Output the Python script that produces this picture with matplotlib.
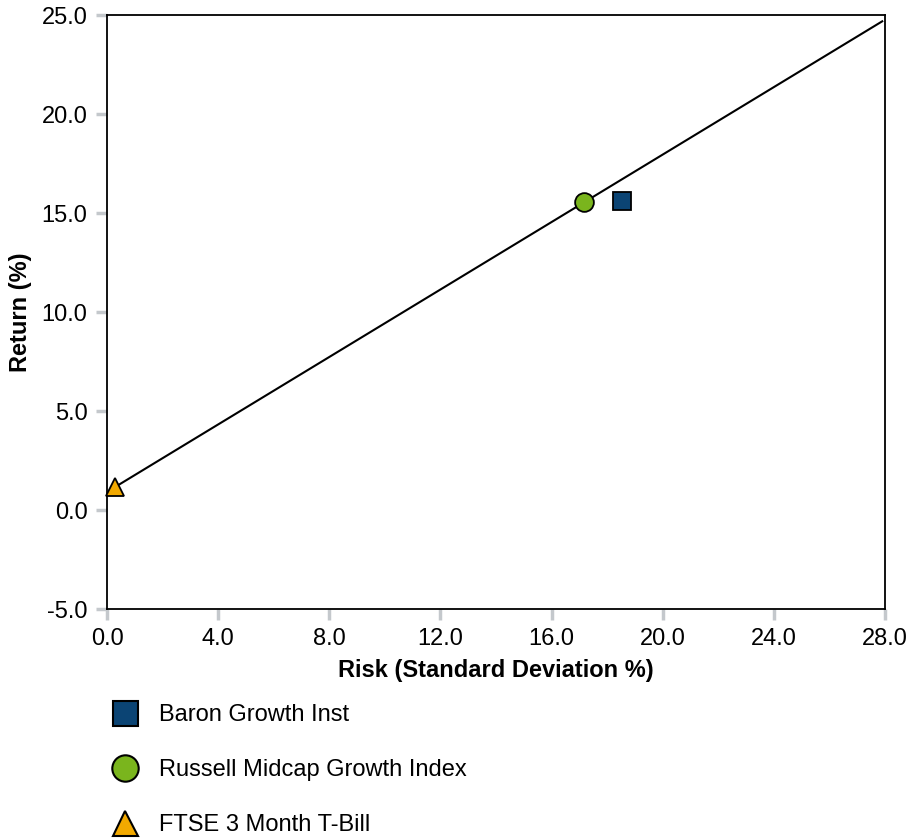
import matplotlib
matplotlib.use("Agg")
import matplotlib.pyplot as plt
from matplotlib.lines import Line2D
from matplotlib.ticker import FormatStrFormatter

plt.rcParams['font.family'] = ['Liberation Sans', 'DejaVu Sans']
plt.rcParams['axes.unicode_minus'] = False

names = ["Baron Growth Inst", "Russell Midcap Growth Index", "FTSE 3 Month T-Bill"]
risk = [18.52, 17.17, 0.29]
ret = [15.62, 15.54, 1.16]
markers = ["s", "o", "^"]
colors = ["#0b4474", "#7ab51d", "#f2a900"]

xticks = [0, 4, 8, 12, 16, 20, 24, 28]
yticks = [-5, 0, 5, 10, 15, 20, 25]

fig = plt.figure(figsize=(9.09, 8.38), dpi=100)
ax = fig.add_axes([107/909, 1-609/838, (885-107)/909, (609-15)/838])

# capital market line: from T-Bill through benchmark to right edge
rf_x, rf_y = risk[2], ret[2]
bx, by = risk[1], ret[1]
slope = (by - rf_y) / (bx - rf_x)
x_end = 27.9
ax.plot([rf_x, x_end], [rf_y, rf_y + slope * (x_end - rf_x)], color="black", lw=1.5, zorder=2)

sizes = [13, 13.5, 12.5]
for n, x, y, m, c, s in zip(names, risk, ret, markers, colors, sizes):
    ax.plot([x], [y], marker=m, color=c, markeredgecolor="black", markeredgewidth=1.3,
            markersize=s, linestyle="none", zorder=3, clip_on=False)

ax.set_xlim(0, 28)
ax.set_ylim(-5, 25)
ax.set_xticks(xticks)
ax.set_yticks(yticks)
ax.xaxis.set_major_formatter(FormatStrFormatter("%.1f"))
ax.yaxis.set_major_formatter(FormatStrFormatter("%.1f"))
ax.tick_params(axis="both", direction="out", length=8, width=2.5, color="#c4c8cc",
               labelsize=17, pad=6)
for sp in ax.spines.values():
    sp.set_linewidth(1.3)
    sp.set_color("black")

ax.set_xlabel("Risk (Standard Deviation %)", fontsize=17, fontweight="bold", labelpad=6)
ax.set_ylabel("Return (%)", fontsize=17, fontweight="bold", labelpad=7)

lsizes = [18, 19, 18]
handles = [Line2D([0], [0], marker=m, color=c, markeredgecolor="black", markeredgewidth=1.5,
                  markersize=s, linestyle="none") for m, c, s in zip(markers, colors, lsizes)]
fig.legend(handles, names, loc="upper left", bbox_to_anchor=(101/909, 1-704/838),
           frameon=False, fontsize=17, labelspacing=1.4, handletextpad=0.45,
           borderpad=0, borderaxespad=0)

fig.savefig("out.png", dpi=100)
